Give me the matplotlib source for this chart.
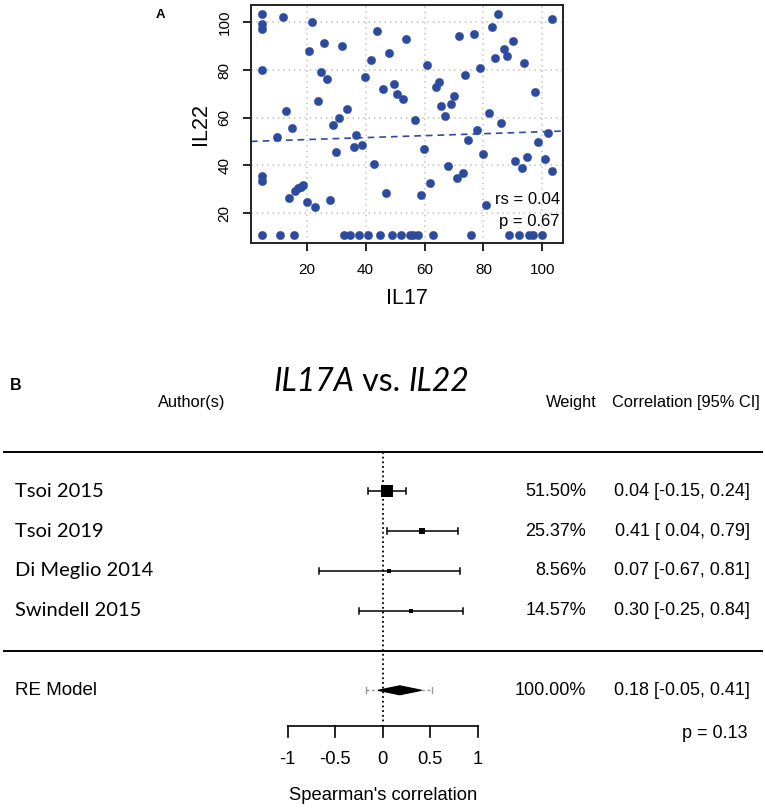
import numpy as np
import matplotlib
matplotlib.use('Agg')
import matplotlib.pyplot as plt
from matplotlib.patches import Polygon

# ---------------- Panel A data ----------------
il17 = [4.9, 4.9, 4.9, 4.9, 4.9, 4.9, 12.0, 13.1, 15.0, 10.0, 13.9, 16.0, 17.1, 18.1, 18.9,
        20.0, 22.9, 27.9, 29.9, 36.0, 38.9, 43.0, 46.8, 59.9, 58.9, 61.9, 67.9, 70.9, 73.0,
        74.9, 79.9, 80.9, 90.8, 93.0, 94.9, 98.5, 21.8, 20.9, 25.9, 31.9, 24.9, 26.9, 23.8,
        33.7, 30.9, 28.9, 36.9, 43.9, 39.8, 41.9, 47.9, 53.8, 45.8, 49.8, 50.8, 52.8, 56.9,
        61.0, 64.9, 63.9, 65.7, 66.9, 68.9, 69.9, 71.8, 76.9, 73.9, 78.8, 81.8, 85.9, 77.9,
        82.9, 84.9, 86.9, 87.9, 83.8, 89.9, 93.9, 97.6, 103.2, 101.9, 100.9, 103.4,
        4.9, 10.9, 15.8, 32.7, 34.7, 37.9, 40.9, 44.9, 48.9, 52.0, 55.1, 56.2, 57.9, 62.8,
        75.8, 88.8, 92.0, 95.6, 96.9, 99.8]
il22 = [103.6, 99.2, 97.1, 80.0, 35.7, 33.5, 102.2, 62.8, 55.8, 51.8, 26.5, 29.4, 30.4, 31.1, 31.8,
        24.5, 22.6, 25.5, 45.6, 47.7, 48.7, 40.7, 28.6, 46.7, 27.6, 32.6, 39.7, 34.6, 36.7,
        50.7, 44.7, 23.4, 41.7, 38.8, 43.6, 49.8, 100.1, 88.1, 91.2, 90.2, 79.0, 76.1, 67.0,
        63.8, 59.9, 56.9, 52.9, 96.2, 77.1, 84.1, 87.0, 93.1, 72.0, 74.0, 69.9, 67.8, 58.9,
        82.0, 75.1, 73.0, 64.9, 60.8, 65.9, 69.0, 94.3, 95.2, 78.0, 81.0, 61.8, 57.9, 55.0,
        98.2, 103.6, 88.9, 86.0, 85.0, 92.2, 82.9, 70.9, 101.3, 53.7, 42.7, 37.7,
        10.8, 10.8, 10.8, 10.8, 10.8, 10.8, 10.8, 10.8, 10.8, 10.8, 10.8, 10.8, 10.8, 10.8,
        10.8, 10.8, 10.8, 10.8, 10.8, 10.8]
fit_intercept = 50.0
fit_slope = 0.041
rs_label = "rs = 0.04"
p_label = "p = 0.67"
a_xticks = [20, 40, 60, 80, 100]
a_yticks = [20, 40, 60, 80, 100]

# ---------------- Panel B data ----------------
studies = ["Tsoi 2015", "Tsoi 2019", "Di Meglio 2014", "Swindell 2015"]
est = [0.04, 0.41, 0.07, 0.30]
ci_lo = [-0.15, 0.04, -0.67, -0.25]
ci_hi = [0.24, 0.79, 0.81, 0.84]
weights = [51.50, 25.37, 8.56, 14.57]
re_est, re_lo, re_hi = 0.18, -0.05, 0.41
pi_lo, pi_hi = -0.18, 0.52
re_weight = 100.00
re_p = 0.13
b_ticks = [-1, -0.5, 0, 0.5, 1]
b_ticklabels = ["-1", "-0.5", "0", "0.5", "1"]

W, H = 765, 809
fig = plt.figure(figsize=(W / 100, H / 100), dpi=100)
ARIAL = 'Liberation Sans'
MYRIAD = 'Lato'

def fx(px):
    return px / W

def fy(py):
    return 1 - py / H

# ---------------- Panel B (forest) ----------------
axf = fig.add_axes([0, 0, 1, 1])
axf.axis('off')
X0, SX = 382.7, 95.0          # pixel of x=0, pixels per unit
R0, SR = 650.5, 39.8          # pixel of row 0, pixels per row
axf.set_xlim(-X0 / SX, (W - X0) / SX)
axf.set_ylim(-(H - R0) / SR, R0 / SR)

def dx(px):
    return (px - X0) / SX

def dr(py):
    return (R0 - py) / SR

NUM_FS = 13.0
k = len(studies)
rows = np.arange(k, 0, -1)
cap = 3.0 / SR
for i, r in enumerate(rows):
    axf.plot([ci_lo[i], ci_hi[i]], [r, r], color='black', lw=1.1, solid_capstyle='butt')
    for xe in (ci_lo[i], ci_hi[i]):
        axf.plot([xe, xe], [r - cap, r + cap], color='black', lw=1.1)
    side_px = 1.8 + 0.198 * weights[i]
    axf.plot([est[i]], [r], marker='s', color='black', markersize=side_px * 0.72, mew=0)
    axf.text(dx(15), r, studies[i], ha='left', va='center', fontsize=14.5, family=MYRIAD)
    axf.text(dx(586), r, f"{weights[i]:.2f}%", ha='right', va='center', fontsize=NUM_FS, family=ARIAL)
    axf.text(dx(750), r, f"{est[i]:.2f} [{ci_lo[i]:5.2f}, {ci_hi[i]:.2f}]", ha='right',
             va='center', fontsize=NUM_FS, family=ARIAL)

# RE model
rr = -1
axf.plot([pi_lo, pi_hi], [rr, rr], color='#999999', lw=1.0, linestyle=(0, (2, 2)))
for xe in (pi_lo, pi_hi):
    axf.plot([xe, xe], [rr - cap, rr + cap], color='#999999', lw=1.0)
hd = 4.5 / SR
axf.add_patch(Polygon([[re_lo, rr], [re_est, rr + hd], [re_hi, rr], [re_est, rr - hd]],
                      closed=True, facecolor='black', edgecolor='black', lw=0.8, zorder=3))
axf.text(dx(15), rr, "RE Model", ha='left', va='center', fontsize=13.5, family=ARIAL)
axf.text(dx(586), rr, f"{re_weight:.2f}%", ha='right', va='center', fontsize=NUM_FS, family=ARIAL)
axf.text(dx(750), rr, f"{re_est:.2f} [{re_lo:.2f}, {re_hi:.2f}]", ha='right', va='center',
         fontsize=NUM_FS, family=ARIAL)
axf.text(dx(748), dr(733), f"p = {re_p:.2f}", ha='right', va='center', fontsize=NUM_FS, family=ARIAL)

# separator lines
for r in (k + 1, 0):
    axf.plot([dx(4), dx(762)], [r, r], color='black', lw=1.4)

# zero line
y_axis_row = dr(725.7)
axf.plot([0, 0], [k + 1, y_axis_row + 0.08], color='black', lw=1.3, linestyle=(0, (1, 1.6)))

# forest x-axis
axf.plot([b_ticks[0], b_ticks[-1]], [y_axis_row, y_axis_row], color='black', lw=1.2)
tl = 11 / SR
for t, lab in zip(b_ticks, b_ticklabels):
    axf.plot([t, t], [y_axis_row, y_axis_row - tl], color='black', lw=1.2)
    axf.text(t, dr(760), lab, ha='center', va='center', fontsize=13.2, family=ARIAL)
axf.text(0, dr(795), "Spearman's correlation", ha='center', va='center', fontsize=13.2, family=ARIAL)

# headers
HFS = 11.8
axf.text(dx(192), dr(402), "Author(s)", ha='center', va='center', fontsize=HFS, family=ARIAL)
axf.text(dx(571), dr(402), "Weight", ha='center', va='center', fontsize=HFS, family=ARIAL)
axf.text(dx(760), dr(402), "Correlation [95% CI]", ha='right', va='center', fontsize=HFS, family=ARIAL)

# title
TFS = 23
t1 = fig.text(fx(273), fy(382), "IL17A", ha='left', va='center', fontsize=TFS,
              family=MYRIAD, style='italic')
t2 = fig.text(0, 0, " vs. ", ha='left', va='bottom', fontsize=TFS, family=MYRIAD)
t3 = fig.text(0, 0, "IL22", ha='left', va='bottom', fontsize=TFS, family=MYRIAD, style='italic')
fig.canvas.draw()
r = fig.canvas.get_renderer()
bb1 = t1.get_window_extent(r)
t2.set_position((bb1.x1 / W, bb1.y0 / H))
fig.canvas.draw()
bb2 = t2.get_window_extent(r)
t3.set_position((bb2.x1 / W, bb1.y0 / H))

fig.text(fx(16), fy(385), "B", ha='center', va='center', fontsize=11.5, fontweight='bold', family=ARIAL)

# ---------------- Panel A (scatter) ----------------
L, R, T, B = 251, 563, 4.7, 243.3
axs = fig.add_axes([fx(L), fy(B), (R - L) / W, (B - T) / H])
axs.set_xlim(1.1, 107.0)
axs.set_ylim(7.3, 107.4)
axs.set_xticks(a_xticks)
axs.set_yticks(a_yticks)
axs.grid(True, color='#c4c4c4', linestyle=(0, (1, 2.5)), lw=1.1)
axs.set_axisbelow(True)
axs.scatter(il17, il22, s=36, color='#2c4b9e', edgecolors='#2c4b9e', linewidths=0.3, zorder=3)
axs.axline((0, fit_intercept), slope=fit_slope, color='#2c4b9e', lw=1.2,
           linestyle=(0, (4, 3)), zorder=2)
for sp in axs.spines.values():
    sp.set_linewidth(1.4)
    sp.set_color('#222222')
axs.tick_params(direction='out', length=6, width=1.2, labelsize=11, pad=8)
for lab in axs.get_xticklabels() + axs.get_yticklabels():
    lab.set_family(ARIAL)
for lab in axs.get_yticklabels():
    lab.set_rotation(90)
    lab.set_va('center')
axs.text(0.99, 0.185, rs_label, transform=axs.transAxes, ha='right', va='center',
         fontsize=12, family=ARIAL)
axs.text(0.99, 0.09, p_label, transform=axs.transAxes, ha='right', va='center',
         fontsize=12, family=ARIAL)

fig.text(fx(407), fy(298), "IL17", ha='center', va='center', fontsize=15.5, family=ARIAL)
fig.text(fx(201), fy(124), "IL22", ha='center', va='center', fontsize=15.5, family=ARIAL, rotation=90)
fig.text(fx(160), fy(15), "A", ha='center', va='center', fontsize=9.5, fontweight='bold', family=ARIAL)

fig.savefig('out.png', dpi=100)
